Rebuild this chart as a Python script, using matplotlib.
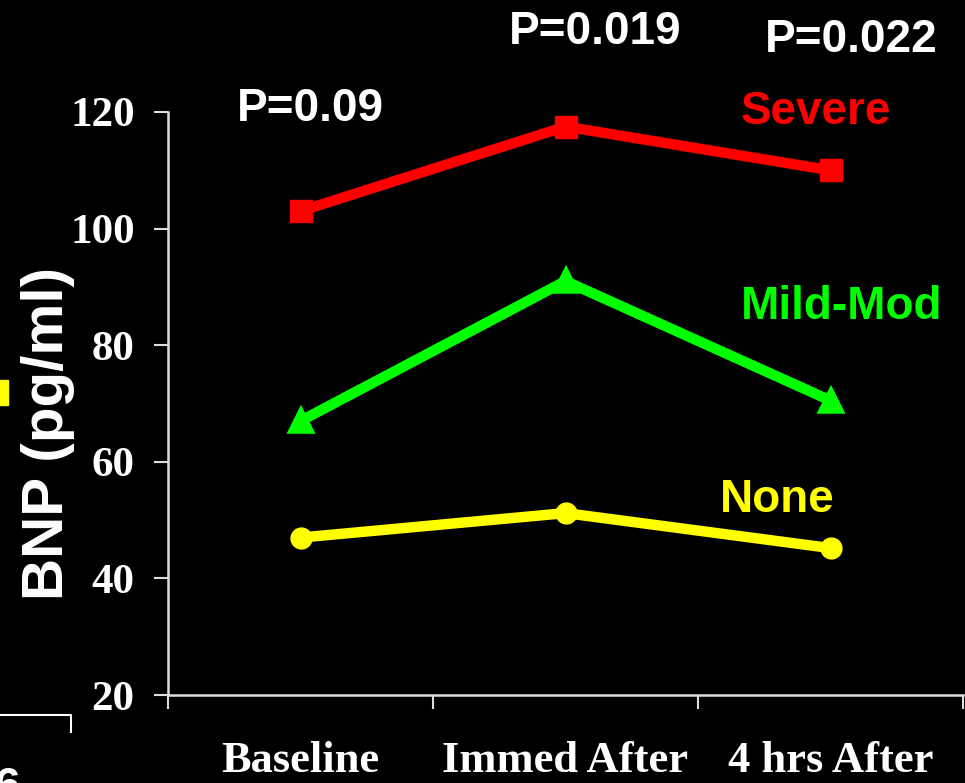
import matplotlib
matplotlib.use("Agg")
import matplotlib.pyplot as plt
from matplotlib.patches import Rectangle
from matplotlib.lines import Line2D

# === Données ===
categories = ["Baseline", "Immed After", "4 hrs After"]
severe = [103, 117.5, 110]
mild_mod = [67, 91, 70.5]
none = [47, 51.2, 45.2]
yticks = [20, 40, 60, 80, 100, 120]
p_values = ["P=0.09", "P=0.019", "P=0.022"]

W, H = 965, 783
fig = plt.figure(figsize=(W / 100, H / 100), dpi=100, facecolor="black")

def fx(px):
    return px / W

def fy(py):
    return 1 - py / H

ax = fig.add_axes([fx(168), fy(695), fx(963) - fx(168), fy(112) - fy(695)])
ax.set_facecolor("black")

x = range(len(categories))
ax.plot(x, severe, color="#ff0000", lw=7.5, marker="s", ms=16, mec="#ff0000", clip_on=False, zorder=3)
ax.plot(x, mild_mod, color="#00ff00", lw=7.5, marker="^", ms=15, mec="#00ff00", mew=4,
        clip_on=False, zorder=3)
ax.plot(x, none, color="#ffff00", lw=7.5, marker="o", ms=15, mec="#ffff00", clip_on=False, zorder=3)

ax.set_xlim(-0.5, 2.5)
ax.set_ylim(20, 120)
ax.set_yticks(yticks)
ax.set_yticklabels([str(v) for v in yticks], fontfamily="Liberation Serif",
                   fontweight="bold", fontsize=31, color="white")
ax.set_xticks([-0.5, 0.5, 1.5, 2.5])
ax.set_xticklabels([])
ax.set_xticks(list(x), minor=True)
ax.set_xticklabels(categories, minor=True, fontfamily="Liberation Serif",
                   fontweight="bold", fontsize=32, color="white")
ax.tick_params(axis="x", which="minor", length=0, pad=33)
ax.tick_params(axis="both", which="major", direction="out", length=10, width=1.5,
               color="#dddddd")
ax.tick_params(axis="y", pad=14)

for side in ["top", "right"]:
    ax.spines[side].set_visible(False)
for side in ["left", "bottom"]:
    ax.spines[side].set_color("#dddddd")
    ax.spines[side].set_linewidth(1.8)

# Label de l'axe Y
fig.text(fx(48), fy(433), "BNP (pg/ml)", rotation=90, ha="center", va="center",
         fontfamily="Liberation Sans", fontweight="bold", fontsize=42, color="white")

# Valeurs P
p_pos = [(310, 109), (595, 32), (851, 40)]
for txt, (px, py) in zip(p_values, p_pos):
    fig.text(fx(px), fy(py), txt, ha="center", va="center",
             fontfamily="Liberation Sans", fontweight="bold", fontsize=33, color="white")

# Étiquettes des séries
fig.text(fx(816), fy(112), "Severe", ha="center", va="center",
         fontfamily="Liberation Sans", fontweight="bold", fontsize=33, color="#ff0000")
fig.text(fx(842), fy(307), "Mild-Mod", ha="center", va="center",
         fontfamily="Liberation Sans", fontweight="bold", fontsize=33, color="#00ff00")
fig.text(fx(777), fy(500), "None", ha="center", va="center",
         fontfamily="Liberation Sans", fontweight="bold", fontsize=33, color="#ffff00")

# Fragments en bordure
fig.patches.append(Rectangle((0, fy(405)), fx(8), fy(380) - fy(405),
                             transform=fig.transFigure, color="#ffff00"))
fig.lines.append(Line2D([0, fx(71), fx(71)], [fy(715), fy(715), fy(732)],
                        transform=fig.transFigure, color="white", lw=1.5))
fig.text(fx(-6), fy(800), "6", ha="left", va="baseline", fontfamily="Liberation Sans",
         fontweight="bold", fontsize=33, color="white")

fig.savefig("out.png", dpi=100, facecolor="black")
